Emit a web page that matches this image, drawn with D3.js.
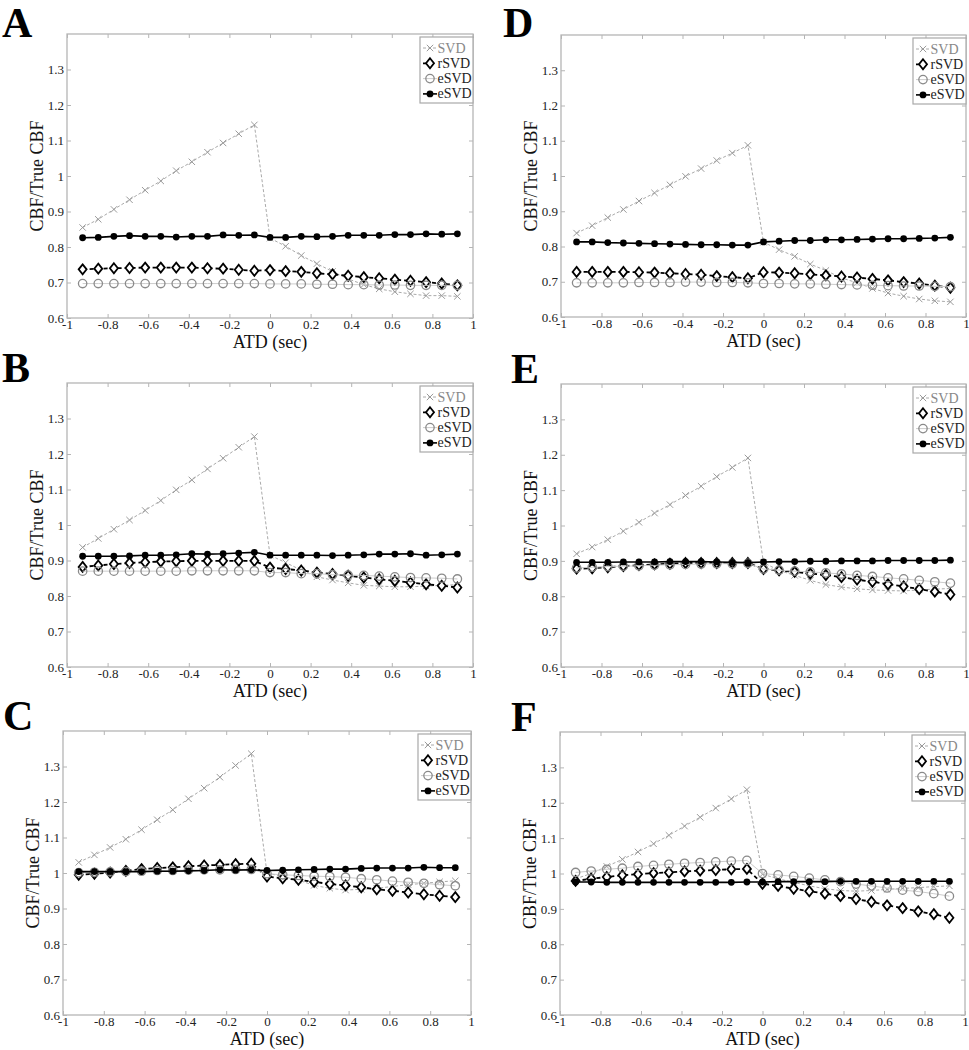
<!DOCTYPE html>
<html>
<head>
<meta charset="utf-8">
<script src="https://cdn.jsdelivr.net/npm/d3@7/dist/d3.min.js"></script>
<style>
  html, body { margin: 0; padding: 0; background: #fff; }
  svg { display: block; }
  text { font-family: "Liberation Serif", "Times New Roman", serif; }
</style>
</head>
<body>
<svg id="chart" width="969" height="1050"></svg>
<script>
// ---------- data ----------
const ATD = [-0.923,-0.846,-0.769,-0.692,-0.615,-0.538,-0.462,-0.385,-0.308,-0.231,-0.154,-0.077,0,
             0.077,0.154,0.231,0.308,0.385,0.462,0.538,0.615,0.692,0.769,0.846,0.923];
const xTicks = [-1,-0.8,-0.6,-0.4,-0.2,0,0.2,0.4,0.6,0.8,1];
const yTicks = [0.6,0.7,0.8,0.9,1.0,1.1,1.2,1.3];
const seriesNames = ["SVD","rSVD","eSVD","eSVD"];
const xLabel = "ATD (sec)";
const yLabel = "CBF/True CBF";

// Panel A
const svdA  = [0.855,0.878,0.906,0.933,0.960,0.986,1.015,1.040,1.067,1.093,1.119,1.144,0.825,0.802,0.776,0.753,0.731,0.710,0.694,0.682,0.674,0.668,0.663,0.663,0.661];
const rsvdA = [0.737,0.739,0.740,0.741,0.742,0.742,0.742,0.742,0.740,0.739,0.736,0.733,0.735,0.732,0.730,0.726,0.723,0.719,0.715,0.712,0.708,0.705,0.701,0.697,0.692];
const esvdOpenA = [0.697,0.697,0.697,0.697,0.697,0.697,0.697,0.697,0.697,0.697,0.697,0.697,0.696,0.696,0.696,0.695,0.695,0.694,0.694,0.693,0.693,0.692,0.692,0.692,0.692];
const esvdFillA = [0.826,0.827,0.830,0.832,0.830,0.830,0.828,0.830,0.830,0.834,0.833,0.834,0.827,0.827,0.830,0.829,0.830,0.833,0.833,0.833,0.835,0.835,0.837,0.836,0.837];
// Panel B
const svdB  = [0.937,0.962,0.988,1.014,1.041,1.069,1.099,1.127,1.158,1.188,1.219,1.249,0.915,0.894,0.873,0.854,0.845,0.837,0.830,0.828,0.826,0.826,0.828,0.830,0.832];
const rsvdB = [0.882,0.886,0.890,0.893,0.895,0.897,0.898,0.899,0.899,0.899,0.899,0.899,0.880,0.876,0.872,0.866,0.862,0.857,0.852,0.847,0.843,0.838,0.833,0.829,0.824];
const esvdOpenB = [0.870,0.870,0.870,0.870,0.870,0.870,0.870,0.871,0.871,0.871,0.871,0.871,0.866,0.866,0.863,0.863,0.860,0.859,0.858,0.856,0.854,0.852,0.851,0.850,0.848];
const esvdFillB = [0.912,0.912,0.912,0.913,0.915,0.915,0.916,0.919,0.918,0.919,0.921,0.923,0.915,0.915,0.915,0.915,0.914,0.915,0.916,0.918,0.918,0.919,0.915,0.916,0.918];
// Panel C
const svdC  = [1.030,1.051,1.072,1.095,1.122,1.150,1.178,1.209,1.239,1.270,1.303,1.336,1.000,0.990,0.980,0.965,0.957,0.952,0.954,0.957,0.962,0.967,0.971,0.975,0.978];
const rsvdC = [0.995,0.998,1.001,1.006,1.011,1.014,1.016,1.019,1.021,1.023,1.025,1.026,0.990,0.985,0.981,0.975,0.969,0.965,0.960,0.954,0.950,0.945,0.940,0.936,0.932];
const esvdOpenC = [1.001,1.002,1.003,1.004,1.005,1.007,1.007,1.008,1.009,1.009,1.010,1.010,0.998,0.995,0.993,0.991,0.990,0.988,0.984,0.981,0.977,0.974,0.971,0.967,0.964];
const esvdFillC = [1.004,1.004,1.004,1.004,1.004,1.005,1.005,1.006,1.007,1.009,1.008,1.009,1.007,1.008,1.009,1.010,1.011,1.011,1.013,1.014,1.014,1.014,1.016,1.015,1.015];
// Panel D
const svdD  = [0.838,0.859,0.882,0.905,0.929,0.952,0.975,0.999,1.021,1.044,1.065,1.087,0.812,0.791,0.772,0.750,0.732,0.711,0.697,0.681,0.668,0.659,0.651,0.646,0.643];
const rsvdD = [0.728,0.728,0.728,0.728,0.727,0.726,0.724,0.722,0.720,0.716,0.713,0.710,0.727,0.726,0.724,0.721,0.718,0.715,0.712,0.708,0.704,0.699,0.695,0.689,0.683];
const esvdOpenD = [0.697,0.697,0.697,0.697,0.698,0.698,0.698,0.699,0.699,0.698,0.698,0.697,0.695,0.695,0.694,0.694,0.693,0.692,0.691,0.690,0.689,0.688,0.688,0.687,0.686];
const esvdFillD = [0.813,0.813,0.811,0.810,0.809,0.808,0.807,0.806,0.805,0.805,0.804,0.804,0.813,0.815,0.817,0.817,0.819,0.819,0.820,0.821,0.822,0.822,0.823,0.824,0.826];
// Panel E
const svdE  = [0.920,0.939,0.960,0.984,1.009,1.035,1.059,1.085,1.111,1.138,1.164,1.191,0.895,0.873,0.859,0.845,0.833,0.826,0.821,0.818,0.816,0.815,0.818,0.820,0.822];
const rsvdE = [0.878,0.879,0.882,0.885,0.888,0.890,0.892,0.894,0.894,0.894,0.894,0.894,0.877,0.873,0.869,0.864,0.860,0.854,0.847,0.841,0.834,0.828,0.820,0.813,0.805];
const esvdOpenE = [0.880,0.882,0.884,0.885,0.886,0.888,0.889,0.890,0.891,0.892,0.892,0.893,0.877,0.874,0.871,0.869,0.866,0.863,0.859,0.856,0.852,0.849,0.845,0.841,0.837];
const esvdFillE = [0.896,0.896,0.896,0.897,0.897,0.897,0.898,0.898,0.898,0.897,0.896,0.895,0.897,0.898,0.898,0.899,0.899,0.900,0.900,0.900,0.901,0.901,0.901,0.901,0.902];
// Panel F
const svdF  = [0.985,1.000,1.020,1.040,1.061,1.084,1.108,1.134,1.159,1.185,1.211,1.237,0.998,0.985,0.975,0.965,0.957,0.952,0.950,0.952,0.955,0.958,0.960,0.963,0.965];
const rsvdF = [0.979,0.985,0.990,0.995,0.998,1.001,1.003,1.006,1.008,1.010,1.012,1.013,0.971,0.965,0.957,0.950,0.943,0.936,0.928,0.920,0.910,0.902,0.893,0.885,0.875];
const esvdOpenF = [1.003,1.007,1.012,1.015,1.020,1.023,1.026,1.029,1.031,1.033,1.035,1.037,1.000,0.996,0.992,0.987,0.982,0.977,0.970,0.965,0.959,0.953,0.949,0.943,0.936];
const esvdFillF = [0.976,0.976,0.975,0.975,0.975,0.975,0.975,0.975,0.975,0.975,0.975,0.976,0.976,0.977,0.977,0.977,0.977,0.978,0.978,0.978,0.978,0.978,0.978,0.978,0.978];

// ---------- layout (positions only) ----------
const panels = [
  {label:"A", series:[svdA,rsvdA,esvdOpenA,esvdFillA], left:67,  top:34,  right:473, bottom:318,  lx:2,   ly:37},
  {label:"D", series:[svdD,rsvdD,esvdOpenD,esvdFillD], left:561, top:35,  right:966, bottom:317,  lx:503, ly:37},
  {label:"B", series:[svdB,rsvdB,esvdOpenB,esvdFillB], left:67,  top:383, right:473, bottom:667,  lx:2,   ly:382},
  {label:"E", series:[svdE,rsvdE,esvdOpenE,esvdFillE], left:561, top:384, right:966, bottom:667,  lx:511, ly:383},
  {label:"C", series:[svdC,rsvdC,esvdOpenC,esvdFillC], left:63,  top:731, right:471, bottom:1015, lx:3,   ly:730},
  {label:"F", series:[svdF,rsvdF,esvdOpenF,esvdFillF], left:560, top:732, right:965, bottom:1015, lx:511, ly:731}
];

const styles = [
  {line:"#aaaaaa", width:1,   dash:"3,2", marker:"x"},
  {line:"#000000", width:1.8, dash:"4,3", marker:"diamond"},
  {line:"#cccccc", width:1,   dash:null,  marker:"open"},
  {line:"#000000", width:1.6, dash:null,  marker:"filled"}
];

const FONT = "'Liberation Serif', 'Times New Roman', serif";
const svg = d3.select("#chart").attr("font-family", FONT);
svg.append("rect").attr("width",969).attr("height",1050).attr("fill","#fff");

const fmt = d => String(+(+d).toFixed(1));
const axisColor = "#b5b5b5";

function drawMarker(g, type, x, y) {
  if (type === "x") {
    const s = 3.2;
    g.append("path").attr("d", `M${x-s},${y-s}L${x+s},${y+s}M${x-s},${y+s}L${x+s},${y-s}`)
      .attr("stroke","#9a9a9a").attr("stroke-width",1).attr("fill","none");
  } else if (type === "diamond") {
    g.append("path").attr("d", `M${x},${y-5}L${x+4},${y}L${x},${y+5}L${x-4},${y}Z`)
      .attr("stroke","#000").attr("stroke-width",1.8).attr("fill","#fff");
  } else if (type === "open") {
    g.append("circle").attr("cx",x).attr("cy",y).attr("r",4.2)
      .attr("stroke","#8a8a8a").attr("stroke-width",1.3).attr("fill","none");
  } else {
    g.append("circle").attr("cx",x).attr("cy",y).attr("r",3.4).attr("fill","#000");
  }
}

panels.forEach(p => {
  const x = d3.scaleLinear().domain([-1,1]).range([p.left, p.right]);
  const y = d3.scaleLinear().domain([0.6,1.4]).range([p.bottom, p.top]);
  const g = svg.append("g");

  // axes box
  g.append("rect").attr("x",p.left).attr("y",p.top)
    .attr("width",p.right-p.left).attr("height",p.bottom-p.top)
    .attr("fill","#fff").attr("stroke",axisColor).attr("stroke-width",1.3);

  const styleAxis = sel => {
    sel.attr("font-family", FONT).attr("font-size", 13);
    sel.select(".domain").remove();
    sel.selectAll(".tick line").attr("stroke",axisColor).attr("stroke-width",1);
    sel.selectAll(".tick text").attr("fill","#222").attr("font-family", FONT).attr("font-size", 13);
  };

  g.append("g").attr("transform",`translate(0,${p.bottom})`)
    .call(d3.axisBottom(x).tickValues(xTicks).tickFormat(fmt).tickSizeInner(-4).tickSizeOuter(0).tickPadding(2))
    .call(styleAxis);
  g.append("g").attr("transform",`translate(0,${p.top})`)
    .call(d3.axisTop(x).tickValues(xTicks).tickFormat("").tickSizeInner(-4).tickSizeOuter(0))
    .call(styleAxis);
  g.append("g").attr("transform",`translate(${p.left},0)`)
    .call(d3.axisLeft(y).tickValues(yTicks).tickFormat(fmt).tickSizeInner(-4).tickSizeOuter(0).tickPadding(3))
    .call(styleAxis);
  g.append("g").attr("transform",`translate(${p.right},0)`)
    .call(d3.axisRight(y).tickValues(yTicks).tickFormat("").tickSizeInner(-4).tickSizeOuter(0))
    .call(styleAxis);

  // series
  p.series.forEach((vals, i) => {
    const st = styles[i];
    const line = d3.line().x((d,k) => x(ATD[k])).y(d => y(d));
    g.append("path").datum(vals).attr("d", line)
      .attr("fill","none").attr("stroke",st.line).attr("stroke-width",st.width)
      .attr("stroke-dasharray", st.dash);
    const mg = g.append("g");
    vals.forEach((v,k) => drawMarker(mg, st.marker, x(ATD[k]), y(v)));
  });

  // legend
  const lw = 53, lh = 66;
  const lg = g.append("g");
  lg.append("rect").attr("x",p.right-lw).attr("y",p.top+3).attr("width",lw).attr("height",lh)
    .attr("fill","#fff").attr("stroke","#a8a8a8").attr("stroke-width",1.2);
  seriesNames.forEach((name,i) => {
    const st = styles[i];
    const yy = p.top + 14 + i*15.3;
    const x0 = p.right-lw+3, x1 = p.right-lw+17;
    lg.append("line").attr("x1",x0).attr("x2",x1).attr("y1",yy).attr("y2",yy)
      .attr("stroke",st.line).attr("stroke-width",st.width).attr("stroke-dasharray",st.dash);
    drawMarker(lg, st.marker, (x0+x1)/2, yy);
    lg.append("text").attr("x",x1+0.5).attr("y",yy+4.5).text(name)
      .attr("font-family", FONT).attr("font-size",14)
      .attr("fill", i===0 ? "#888" : "#222");
  });

  // axis titles
  g.append("text").attr("x",(p.left+p.right)/2).attr("y",p.bottom+30)
    .attr("text-anchor","middle").attr("font-family", FONT).attr("font-size",18).attr("fill","#111").text(xLabel);
  g.append("text").attr("transform",`translate(${p.left-24},${(p.top+p.bottom)/2}) rotate(-90)`)
    .attr("text-anchor","middle").attr("font-family", FONT).attr("font-size",18).attr("fill","#111").text(yLabel);

  // panel letter
  g.append("text").attr("x",p.lx).attr("y",p.ly).text(p.label)
    .attr("font-family", FONT).attr("font-size",42).attr("font-weight","bold").attr("fill","#000");
});
</script>
</body>
</html>
